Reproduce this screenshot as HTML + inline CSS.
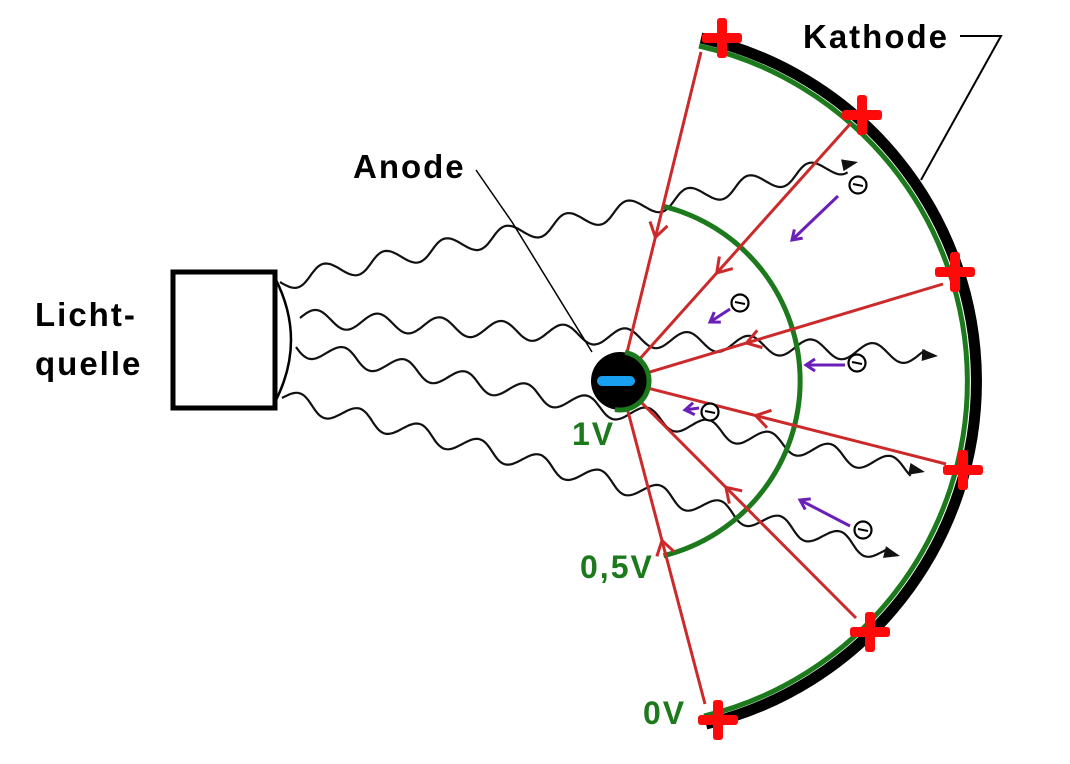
<!DOCTYPE html>
<html><head><meta charset="utf-8"><style>
html,body{margin:0;padding:0;background:#fff;}
svg{display:block;}
text{font-family:"Liberation Sans","DejaVu Sans",sans-serif;font-weight:bold;letter-spacing:2px;}
</style></head><body>
<svg id="s" width="1070" height="764" viewBox="0 0 1070 764" xmlns="http://www.w3.org/2000/svg">
<rect width="1070" height="764" fill="#fff"/>
<rect x="173" y="272" width="102" height="136" fill="#fff" stroke="#000" stroke-width="5"/>
<path d="M275 278 Q307 340 275 402" fill="none" stroke="#000" stroke-width="2.5"/>
<g id="waves" fill="none" stroke="#111" stroke-width="2.2"></g>
<path d="M663.5 206.3 A180 180 0 0 1 663.5 555.7" fill="none" stroke="#1c7a1c" stroke-width="5"/>
<path d="M701 38 A352 352 0 0 1 706 724" fill="none" stroke="#000" stroke-width="11"/>
<path d="M699 46 A344 344 0 0 1 704 716" fill="none" stroke="#1c7a1c" stroke-width="5"/>
<g id="red" stroke="#cc2a2a" stroke-width="3" fill="none"></g>
<circle cx="620" cy="381" r="29" fill="#000"/>
<path d="M620 352 A29 29 0 0 1 620 410" fill="none" stroke="#1c7a1c" stroke-width="5" transform="rotate(10 620 381)"/>
<rect x="597" y="376" width="38" height="10" rx="5" fill="#1aa0f0"/>
<g id="plus" fill="#ff0a0a"></g>
<g id="el"></g>
<text x="35" y="326" font-size="33">Licht-</text>
<text x="35" y="375" font-size="33">quelle</text>
<text x="353" y="178" font-size="33">Anode</text>
<text x="803" y="48" font-size="33">Kathode</text>
<text x="572" y="445" font-size="32" fill="#1c7a1c">1V</text>
<text x="580" y="578" font-size="32" fill="#1c7a1c">0,5V</text>
<text x="643" y="724" font-size="32" fill="#1c7a1c">0V</text>
<path d="M476 170 L512 222 L592 352" fill="none" stroke="#000" stroke-width="1.5"/>
<path d="M960 36 L1001 36 L921 180" fill="none" stroke="#000" stroke-width="2"/>
</svg>
<script>
var NS="http://www.w3.org/2000/svg";
function el(p,t,a){var e=document.createElementNS(NS,t);for(var k in a)e.setAttribute(k,a[k]);p.appendChild(e);return e;}
var W=document.getElementById('waves');
var waves=[[280,282,858,162,1],[300,318,938,356,-1],[296,347,925,472,1],[282,398,900,556,-1]];
waves.forEach(function(w){
 var x0=w[0],y0=w[1],x1=w[2],y1=w[3];var dx=x1-x0,dy=y1-y0,L=Math.hypot(dx,dy);
 var ux=dx/L,uy=dy/L,nx=-uy,ny=ux;var d="";
 for(var t=0;t<=L-12;t+=2){var a=9*Math.sin(t/62*2*Math.PI)*w[4];
  var x=x0+ux*t+nx*a,y=y0+uy*t+ny*a;d+=(t?"L":"M")+x.toFixed(1)+" "+y.toFixed(1);}
 el(W,'path',{d:d});
 var tx=x1,ty=y1,bx=x1-ux*16,by=y1-uy*16;
 el(W,'path',{d:"M"+tx+" "+ty+"L"+(bx+nx*6)+" "+(by+ny*6)+"L"+(bx-nx*6)+" "+(by-ny*6)+"Z",fill:"#111",stroke:"none"});
});
var R=document.getElementById('red');
var ends=[[701,52,148],[851,123,145],[943,284,132],[946,464,140],[856,618,150],[705,704,165]];
ends.forEach(function(e){
 var cx=620,cy=381,dx=e[0]-cx,dy=e[1]-cy,L=Math.hypot(dx,dy),ux=dx/L,uy=dy/L;
 el(R,'line',{x1:cx+ux*28,y1:cy+uy*28,x2:e[0],y2:e[1]});
 var px=cx+ux*e[2],py=cy+uy*e[2],nx=-uy,ny=ux;
 el(R,'path',{d:"M"+(px+ux*14+nx*9)+" "+(py+uy*14+ny*9)+"L"+px+" "+py+"L"+(px+ux*14-nx*9)+" "+(py+uy*14-ny*9)});
});
var P=document.getElementById('plus');
[[722,38],[862,115],[955,272],[963,470],[870,632],[718,720]].forEach(function(p){
 el(P,'rect',{x:p[0]-20,y:p[1]-5,width:40,height:10,rx:3});
 el(P,'rect',{x:p[0]-5,y:p[1]-20,width:10,height:40,rx:3});
});
var E=document.getElementById('el');
[[858,185,838,196,792,240],[740,303,730,309,710,322],[857,363,845,365,806,365],[710,412,699,408,685,410],[863,530,850,526,800,500]].forEach(function(q){
 el(E,'circle',{cx:q[0],cy:q[1],r:8.5,fill:"#fff",stroke:"#000","stroke-width":2.2});
 el(E,'line',{x1:q[0]-5,y1:q[1]-1,x2:q[0]+5,y2:q[1]+1,stroke:"#000","stroke-width":2});
 var dx=q[4]-q[2],dy=q[5]-q[3],L=Math.hypot(dx,dy),ux=dx/L,uy=dy/L,nx=-uy,ny=ux;
 el(E,'line',{x1:q[2],y1:q[3],x2:q[4],y2:q[5],stroke:"#6a1fb8","stroke-width":3});
 var bx=q[4]-ux*9,by=q[5]-uy*9;
 el(E,'path',{d:"M"+(bx+nx*6)+" "+(by+ny*6)+"L"+q[4]+" "+q[5]+"L"+(bx-nx*6)+" "+(by-ny*6),fill:"none",stroke:"#6a1fb8","stroke-width":3});
});
</script>
</body></html>
